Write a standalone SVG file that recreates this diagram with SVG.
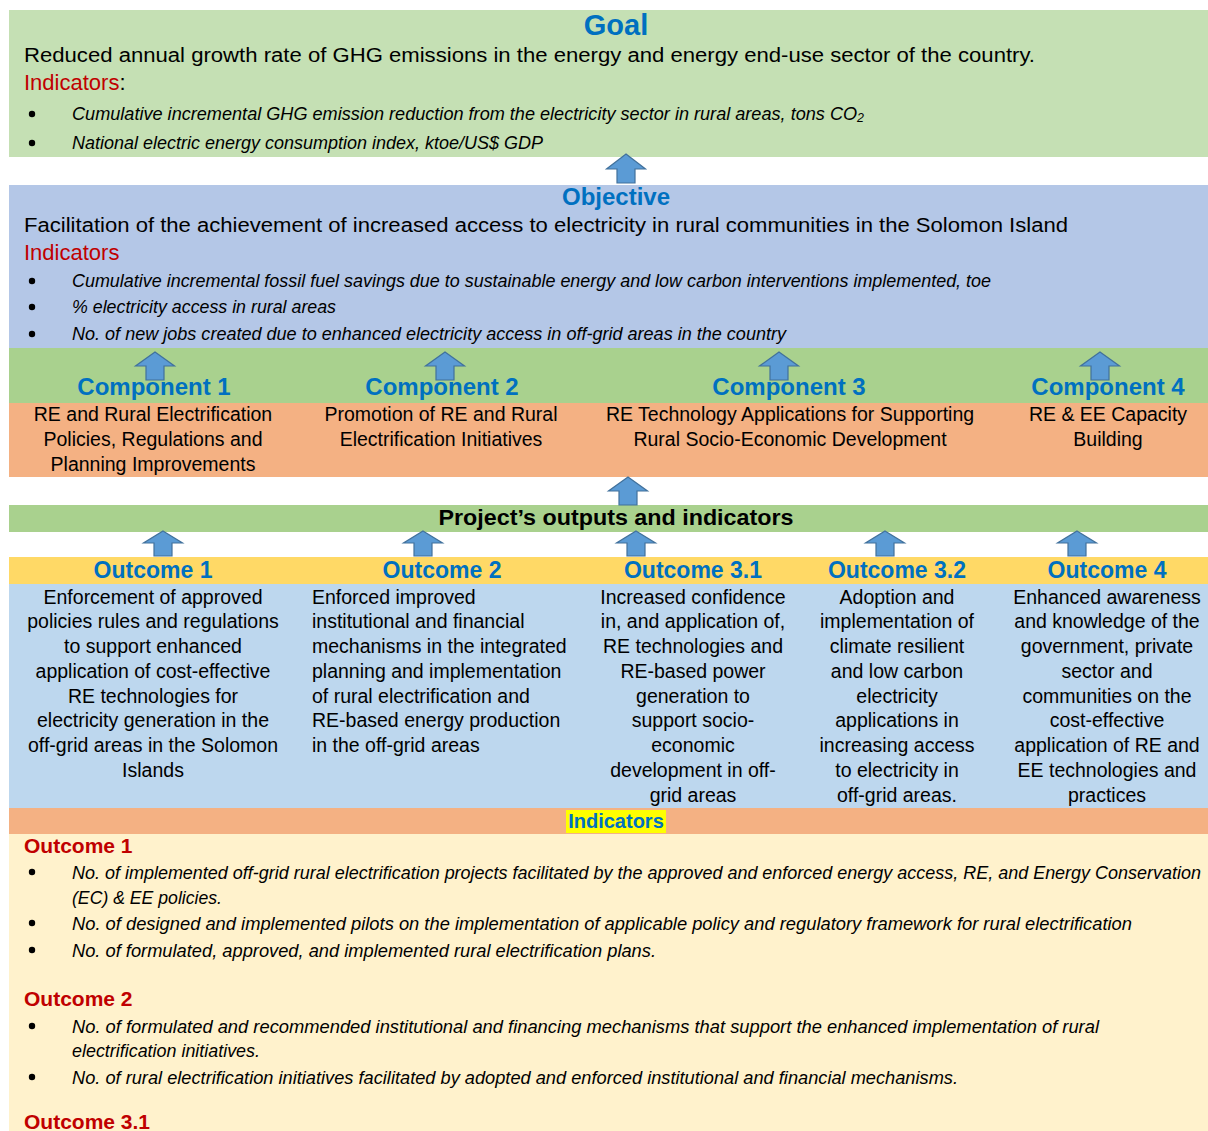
<svg xmlns="http://www.w3.org/2000/svg" width="1208" height="1131" viewBox="0 0 1208 1131">
<style>
text{font-family:"Liberation Sans",Arial,sans-serif;fill:#000}
.ttl{font-weight:bold;fill:#0070c0;text-anchor:middle}
.body{font-size:20px}
.ind{font-size:22px;fill:#c00000}
.it{font-style:italic;font-size:17.5px}
.ctext{font-size:19.5px;text-anchor:middle}
.ltext{font-size:19.5px}
.red{font-weight:bold;fill:#c00000;font-size:21px}
.arr{fill:#5b9bd5;stroke:#41719c;stroke-width:1.2}
</style>
<defs>
<circle id="dot" r="3.2" fill="#000"/>
</defs>
<rect width="1208" height="1131" fill="#fff"/>

<g id="goal">
<rect x="9" y="10" width="1199" height="147" fill="#c5e0b4"/>
<text class="ttl" x="616" y="35" font-size="29">Goal</text>
<text class="body" x="24" y="62" textLength="1011" lengthAdjust="spacingAndGlyphs">Reduced annual growth rate of GHG emissions in the energy and energy end-use sector of the country.</text>
<text class="ind" x="24" y="90">Indicators<tspan fill="#000">:</tspan></text>
<use href="#dot" x="32" y="114"/>
<text class="it" x="72" y="120" textLength="792" lengthAdjust="spacingAndGlyphs">Cumulative incremental GHG emission reduction from the electricity sector in rural areas, tons CO<tspan font-size="12" dy="2">2</tspan></text>
<use href="#dot" x="32" y="143"/>
<text class="it" x="72" y="149" textLength="471" lengthAdjust="spacingAndGlyphs">National electric energy consumption index, ktoe/US$ GDP</text>
</g>

<g id="objective">
<rect x="9" y="185" width="1199" height="163" fill="#b4c7e7"/>
<text class="ttl" x="616" y="205" font-size="24">Objective</text>
<text class="body" x="24" y="232" textLength="1044" lengthAdjust="spacingAndGlyphs">Facilitation of the achievement of increased access to electricity in rural communities in the Solomon Island</text>
<text class="ind" x="24" y="260">Indicators</text>
<use href="#dot" x="32" y="281"/>
<text class="it" x="72" y="287" textLength="919" lengthAdjust="spacingAndGlyphs">Cumulative incremental fossil fuel savings due to sustainable energy and low carbon interventions implemented, toe</text>
<use href="#dot" x="32" y="307"/>
<text class="it" x="72" y="313" textLength="264" lengthAdjust="spacingAndGlyphs">% electricity access in rural areas</text>
<use href="#dot" x="32" y="334"/>
<text class="it" x="72" y="340" textLength="714" lengthAdjust="spacingAndGlyphs">No. of new jobs created due to enhanced electricity access in off-grid areas in the country</text>
</g>

<g id="components-band">
<rect x="9" y="348" width="1199" height="55" fill="#a9d18e"/>
<rect x="9" y="403" width="1199" height="74" fill="#f4b183"/>
</g>
<g id="component1">
<text class="ttl" x="154" y="395" font-size="24">Component 1</text>
<text class="ctext" x="153" y="421">RE and Rural Electrification</text>
<text class="ctext" x="153" y="446">Policies, Regulations and</text>
<text class="ctext" x="153" y="471">Planning Improvements</text>
</g>
<g id="component2">
<text class="ttl" x="442" y="395" font-size="24">Component 2</text>
<text class="ctext" x="441" y="421">Promotion of RE and Rural</text>
<text class="ctext" x="441" y="446">Electrification Initiatives</text>
</g>
<g id="component3">
<text class="ttl" x="789" y="395" font-size="24">Component 3</text>
<text class="ctext" x="790" y="421">RE Technology Applications for Supporting</text>
<text class="ctext" x="790" y="446">Rural Socio-Economic Development</text>
</g>
<g id="component4">
<text class="ttl" x="1108" y="395" font-size="24">Component 4</text>
<text class="ctext" x="1108" y="421">RE &amp; EE Capacity</text>
<text class="ctext" x="1108" y="446">Building</text>
</g>

<g id="outputs">
<rect x="9" y="505" width="1199" height="27" fill="#a9d18e"/>
<text x="616" y="525" font-size="22" font-weight="bold" text-anchor="middle" textLength="355" lengthAdjust="spacingAndGlyphs">Project’s outputs and indicators</text>
</g>

<g id="outcomes-band">
<rect x="9" y="557" width="1199" height="27" fill="#ffd966"/>
<rect x="9" y="584" width="1199" height="224" fill="#bdd7ee"/>
</g>
<g id="outcome1">
<text class="ttl" x="153" y="578" font-size="23">Outcome 1</text>
<text class="ctext" x="153" y="604">Enforcement of approved</text>
<text class="ctext" x="153" y="628">policies rules and regulations</text>
<text class="ctext" x="153" y="653">to support enhanced</text>
<text class="ctext" x="153" y="678">application of cost-effective</text>
<text class="ctext" x="153" y="703">RE technologies for</text>
<text class="ctext" x="153" y="727">electricity generation in the</text>
<text class="ctext" x="153" y="752">off-grid areas in the Solomon</text>
<text class="ctext" x="153" y="777">Islands</text>
</g>
<g id="outcome2">
<text class="ttl" x="442" y="578" font-size="23">Outcome 2</text>
<text class="ltext" x="312" y="604">Enforced improved</text>
<text class="ltext" x="312" y="628">institutional and financial</text>
<text class="ltext" x="312" y="653">mechanisms in the integrated</text>
<text class="ltext" x="312" y="678">planning and implementation</text>
<text class="ltext" x="312" y="703">of rural electrification and</text>
<text class="ltext" x="312" y="727">RE-based energy production</text>
<text class="ltext" x="312" y="752">in the off-grid areas</text>
</g>
<g id="outcome31">
<text class="ttl" x="693" y="578" font-size="23">Outcome 3.1</text>
<text class="ctext" x="693" y="604">Increased confidence</text>
<text class="ctext" x="693" y="628">in, and application of,</text>
<text class="ctext" x="693" y="653">RE technologies and</text>
<text class="ctext" x="693" y="678">RE-based power</text>
<text class="ctext" x="693" y="703">generation to</text>
<text class="ctext" x="693" y="727">support socio-</text>
<text class="ctext" x="693" y="752">economic</text>
<text class="ctext" x="693" y="777">development in off-</text>
<text class="ctext" x="693" y="802">grid areas</text>
</g>
<g id="outcome32">
<text class="ttl" x="897" y="578" font-size="23">Outcome 3.2</text>
<text class="ctext" x="897" y="604">Adoption and</text>
<text class="ctext" x="897" y="628">implementation of</text>
<text class="ctext" x="897" y="653">climate resilient</text>
<text class="ctext" x="897" y="678">and low carbon</text>
<text class="ctext" x="897" y="703">electricity</text>
<text class="ctext" x="897" y="727">applications in</text>
<text class="ctext" x="897" y="752">increasing access</text>
<text class="ctext" x="897" y="777">to electricity in</text>
<text class="ctext" x="897" y="802">off-grid areas.</text>
</g>
<g id="outcome4">
<text class="ttl" x="1107" y="578" font-size="23">Outcome 4</text>
<text class="ctext" x="1107" y="604">Enhanced awareness</text>
<text class="ctext" x="1107" y="628">and knowledge of the</text>
<text class="ctext" x="1107" y="653">government, private</text>
<text class="ctext" x="1107" y="678">sector and</text>
<text class="ctext" x="1107" y="703">communities on the</text>
<text class="ctext" x="1107" y="727">cost-effective</text>
<text class="ctext" x="1107" y="752">application of RE and</text>
<text class="ctext" x="1107" y="777">EE technologies and</text>
<text class="ctext" x="1107" y="802">practices</text>
</g>

<g id="indicators">
<rect x="9" y="808" width="1199" height="26" fill="#f4b183"/>
<rect x="566" y="810" width="100" height="23" fill="#ffff00"/>
<text class="ttl" x="616" y="828" font-size="20">Indicators</text>
<rect x="9" y="834" width="1199" height="297" fill="#fff2cc"/>
<text class="red" x="24" y="853">Outcome 1</text>
<use href="#dot" x="32" y="872"/>
<text class="it" x="72" y="879" textLength="1129" lengthAdjust="spacingAndGlyphs">No. of implemented off-grid rural electrification projects facilitated by the approved and enforced energy access, RE, and Energy Conservation</text>
<text class="it" x="72" y="904" textLength="150" lengthAdjust="spacingAndGlyphs">(EC) &amp; EE policies.</text>
<use href="#dot" x="32" y="923"/>
<text class="it" x="72" y="930" textLength="1060" lengthAdjust="spacingAndGlyphs">No. of designed and implemented pilots on the implementation of applicable policy and regulatory framework for rural electrification</text>
<use href="#dot" x="32" y="950"/>
<text class="it" x="72" y="957" textLength="584" lengthAdjust="spacingAndGlyphs">No. of formulated, approved, and implemented rural electrification plans.</text>
<text class="red" x="24" y="1006">Outcome 2</text>
<use href="#dot" x="32" y="1026"/>
<text class="it" x="72" y="1033" textLength="1027" lengthAdjust="spacingAndGlyphs">No. of formulated and recommended institutional and financing mechanisms that support the enhanced implementation of rural</text>
<text class="it" x="72" y="1057" textLength="188" lengthAdjust="spacingAndGlyphs">electrification initiatives.</text>
<use href="#dot" x="32" y="1077"/>
<text class="it" x="72" y="1084" textLength="886" lengthAdjust="spacingAndGlyphs">No. of rural electrification initiatives facilitated by adopted and enforced institutional and financial mechanisms.</text>
<text class="red" x="24" y="1129">Outcome 3.1</text>
</g>

<g id="connectors">
<path class="arr" d="M626,154 L645.5,169 L635,169 L635,183 L617,183 L617,169 L606.5,169 Z"/>
<path class="arr" d="M155,352 L174.5,366 L164,366 L164,380 L146,380 L146,366 L135.5,366 Z"/>
<path class="arr" d="M445,352 L464.5,366 L454,366 L454,380 L436,380 L436,366 L425.5,366 Z"/>
<path class="arr" d="M779,352 L798.5,366 L788,366 L788,380 L770,380 L770,366 L759.5,366 Z"/>
<path class="arr" d="M1100,352 L1119.5,366 L1109,366 L1109,380 L1091,380 L1091,366 L1080.5,366 Z"/>
<path class="arr" d="M628,477 L647.5,491 L637,491 L637,505 L619,505 L619,491 L608.5,491 Z"/>
<path class="arr" d="M163,531 L182.5,543 L172,543 L172,556 L154,556 L154,543 L143.5,543 Z"/>
<path class="arr" d="M423,531 L442.5,543 L432,543 L432,556 L414,556 L414,543 L403.5,543 Z"/>
<path class="arr" d="M636,531 L655.5,543 L645,543 L645,556 L627,556 L627,543 L616.5,543 Z"/>
<path class="arr" d="M885,531 L904.5,543 L894,543 L894,556 L876,556 L876,543 L865.5,543 Z"/>
<path class="arr" d="M1077,531 L1096.5,543 L1086,543 L1086,556 L1068,556 L1068,543 L1057.5,543 Z"/>
</g>
</svg>
